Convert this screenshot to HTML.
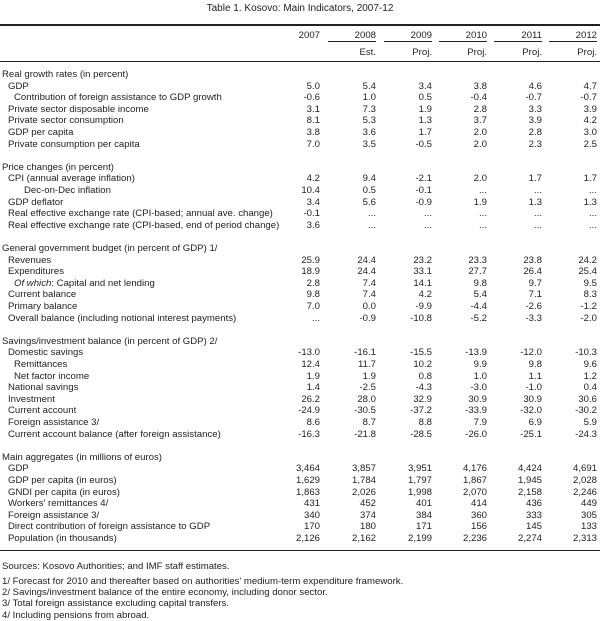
<!DOCTYPE html>
<html><head><meta charset="utf-8"><style>
body{margin:0;background:#fff;}
#c{position:relative;width:600px;height:621px;font-family:"Liberation Sans",sans-serif;font-size:9.6px;color:#222;overflow:hidden;}
.r{position:absolute;left:0;width:600px;height:11px;line-height:11px;white-space:nowrap;}
.r span{position:absolute;}
.n{text-align:right;width:50px;}
.ln{position:absolute;background:#222;}
</style></head><body><div id="c">
<div class="r" style="top:3px;text-align:center;font-size:10px;">Table 1. Kosovo: Main Indicators, 2007-12</div>
<div class="ln" style="left:0;top:24px;width:600px;height:1.5px"></div>
<div class="r" style="top:30px"><span class="n" style="left:270px">2007</span><span class="n" style="left:326px">2008</span><span class="n" style="left:382px">2009</span><span class="n" style="left:437px">2010</span><span class="n" style="left:492px">2011</span><span class="n" style="left:547px">2012</span></div>
<div class="ln" style="left:328px;top:41px;width:48px;height:1px"></div>
<div class="ln" style="left:384px;top:41px;width:48px;height:1px"></div>
<div class="ln" style="left:439px;top:41px;width:48px;height:1px"></div>
<div class="ln" style="left:494px;top:41px;width:48px;height:1px"></div>
<div class="ln" style="left:549px;top:41px;width:48px;height:1px"></div>
<div class="r" style="top:47px"><span class="n" style="left:326px">Est.</span><span class="n" style="left:382px">Proj.</span><span class="n" style="left:437px">Proj.</span><span class="n" style="left:492px">Proj.</span><span class="n" style="left:547px">Proj.</span></div>
<div class="ln" style="left:0;top:61px;width:600px;height:1px"></div>
<div id="rows"></div>
<div class="ln" style="left:0;top:550px;width:600px;height:1px"></div>
<div class="r" style="top:561px;left:2px">Sources: Kosovo Authorities; and IMF staff estimates.</div>
<div class="r" style="top:576px;left:2px">1/ Forecast for 2010 and thereafter based on authorities' medium-term expenditure framework.</div>
<div class="r" style="top:587px;left:2px">2/ Savings/investment balance of the entire economy, including donor sector.</div>
<div class="r" style="top:598px;left:2px">3/ Total foreign assistance excluding capital transfers.</div>
<div class="r" style="top:610px;left:2px">4/ Including pensions from abroad.</div>
</div>
<script>
var D=[
["Real growth rates (in percent)",0],
["GDP",1,"5.0","5.4","3.4","3.8","4.6","4.7"],
["Contribution of foreign assistance to GDP growth",2,"-0.6","1.0","0.5","-0.4","-0.7","-0.7"],
["Private sector disposable income",1,"3.1","7.3","1.9","2.8","3.3","3.9"],
["Private sector consumption",1,"8.1","5.3","1.3","3.7","3.9","4.2"],
["GDP per capita",1,"3.8","3.6","1.7","2.0","2.8","3.0"],
["Private consumption per capita",1,"7.0","3.5","-0.5","2.0","2.3","2.5"],
null,
["Price changes (in percent)",0],
["CPI  (annual average inflation)",1,"4.2","9.4","-2.1","2.0","1.7","1.7"],
["Dec-on-Dec inflation",3,"10.4","0.5","-0.1","...","...","..."],
["GDP deflator",1,"3.4","5.6","-0.9","1.9","1.3","1.3"],
["Real effective exchange rate (CPI-based; annual ave. change)",1,"-0.1","...","...","...","...","..."],
["Real effective exchange rate (CPI-based, end of period change)",1,"3.6","...","...","...","...","..."],
null,
["General government budget (in percent of GDP) 1/",0],
["Revenues",1,"25.9","24.4","23.2","23.3","23.8","24.2"],
["Expenditures",1,"18.9","24.4","33.1","27.7","26.4","25.4"],
["<i>Of which</i>: Capital and net lending",2,"2.8","7.4","14.1","9.8","9.7","9.5"],
["Current balance",1,"9.8","7.4","4.2","5.4","7.1","8.3"],
["Primary balance",1,"7.0","0.0","-9.9","-4.4","-2.6","-1.2"],
["Overall balance (including notional interest payments)",1,"...","-0.9","-10.8","-5.2","-3.3","-2.0"],
null,
["Savings/investment balance (in percent of GDP) 2/",0],
["Domestic savings",1,"-13.0","-16.1","-15.5","-13.9","-12.0","-10.3"],
["Remittances",2,"12.4","11.7","10.2","9.9","9.8","9.6"],
["Net factor income",2,"1.9","1.9","0.8","1.0","1.1","1.2"],
["National savings",1,"1.4","-2.5","-4.3","-3.0","-1.0","0.4"],
["Investment",1,"26.2","28.0","32.9","30.9","30.9","30.6"],
["Current account",1,"-24.9","-30.5","-37.2","-33.9","-32.0","-30.2"],
["Foreign assistance 3/",1,"8.6","8.7","8.8","7.9","6.9","5.9"],
["Current account balance (after foreign assistance)",1,"-16.3","-21.8","-28.5","-26.0","-25.1","-24.3"],
null,
["Main aggregates (in millions of euros)",0],
["GDP",1,"3,464","3,857","3,951","4,176","4,424","4,691"],
["GDP per capita (in euros)",1,"1,629","1,784","1,797","1,867","1,945","2,028"],
["GNDI per capita (in euros)",1,"1,863","2,026","1,998","2,070","2,158","2,246"],
["Workers' remittances 4/",1,"431","452","401","414","436","449"],
["Foreign assistance 3/",1,"340","374","384","360","333","305"],
["Direct contribution of foreign assistance to GDP",1,"170","180","171","156","145","133"],
["Population (in thousands)",1,"2,126","2,162","2,199","2,236","2,274","2,313"]
];
var L=[270,326,382,437,492,547],ind=[2,8,14,24],h="",y=69;
D.forEach(function(r){if(r){h+='<div class="r" style="top:'+Math.round(y)+'px"><span style="left:'+ind[r[1]]+'px">'+r[0]+'</span>';for(var i=2;i<r.length;i++)h+='<span class="n" style="left:'+L[i-2]+'px">'+r[i]+'</span>';h+='</div>';}y+=11.6;});
document.getElementById("rows").outerHTML=h;
</script>
</body></html>
